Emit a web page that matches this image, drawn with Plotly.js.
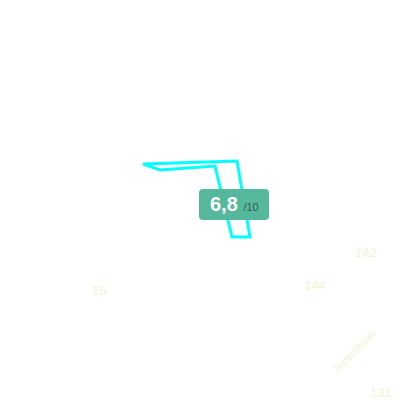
<!DOCTYPE html>
<html>
<head>
<meta charset="utf-8">
<script src="https://cdn.plot.ly/plotly-3.0.1.min.js"></script>
<style>
  html, body { margin: 0; padding: 0; background: #fff; }
  #map { width: 400px; height: 400px; }
</style>
</head>
<body>
<div id="map"></div>
<script>
// contour du quartier (coordonnées de la vue)
const outlineX = [143, 237, 250, 232, 215, 160, 143];
const outlineY = [164, 161, 237, 237, 166, 170, 164];

// numéros et noms de rue
const labelText = ['142', '144', '15', '131', 'Ieperstraat'];
const labelX = [366, 315, 99, 381, 354];
const labelY = [252, 285, 290, 392, 351];
const labelAngle = [0, 0, 0, 0, -45];

// note
const score = '6,8';
const scoreMax = '/10';

const annotations = labelText.map((t, i) => ({
  x: labelX[i], y: labelY[i], xref: 'x', yref: 'y',
  text: t, showarrow: false, textangle: labelAngle[i],
  font: {family: 'Arial, Liberation Sans', size: labelAngle[i] ? 11 : 13, color: '#ebf7cf'}
}));

annotations.push({
  x: 234, y: 204, xref: 'x', yref: 'y',
  text: '<b>' + score + '</b> <span style="font-size:11px;color:#2e5e4f">' + scoreMax + '</span>',
  showarrow: false,
  font: {family: 'Arial, Liberation Sans', size: 20, color: '#ffffff'}
});

Plotly.newPlot('map', [{
  x: outlineX,
  y: outlineY,
  type: 'scatter',
  mode: 'lines',
  line: {color: '#00ffff', width: 3},
  hoverinfo: 'skip'
}], {
  width: 400,
  height: 400,
  margin: {l: 0, r: 0, t: 0, b: 0},
  paper_bgcolor: '#ffffff',
  plot_bgcolor: '#ffffff',
  showlegend: false,
  xaxis: {range: [0, 400], visible: false, fixedrange: true},
  yaxis: {range: [400, 0], visible: false, fixedrange: true},
  shapes: [{
    type: 'path', xref: 'x', yref: 'y',
    path: 'M 203 189 L 265 189 Q 269 189 269 193 L 269 216 Q 269 220 265 220 L 203 220 Q 199 220 199 216 L 199 193 Q 199 189 203 189 Z',
    fillcolor: '#55b89c', line: {width: 0}, layer: 'above'
  }],
  annotations: annotations
}, {staticPlot: true});
</script>
</body>
</html>
